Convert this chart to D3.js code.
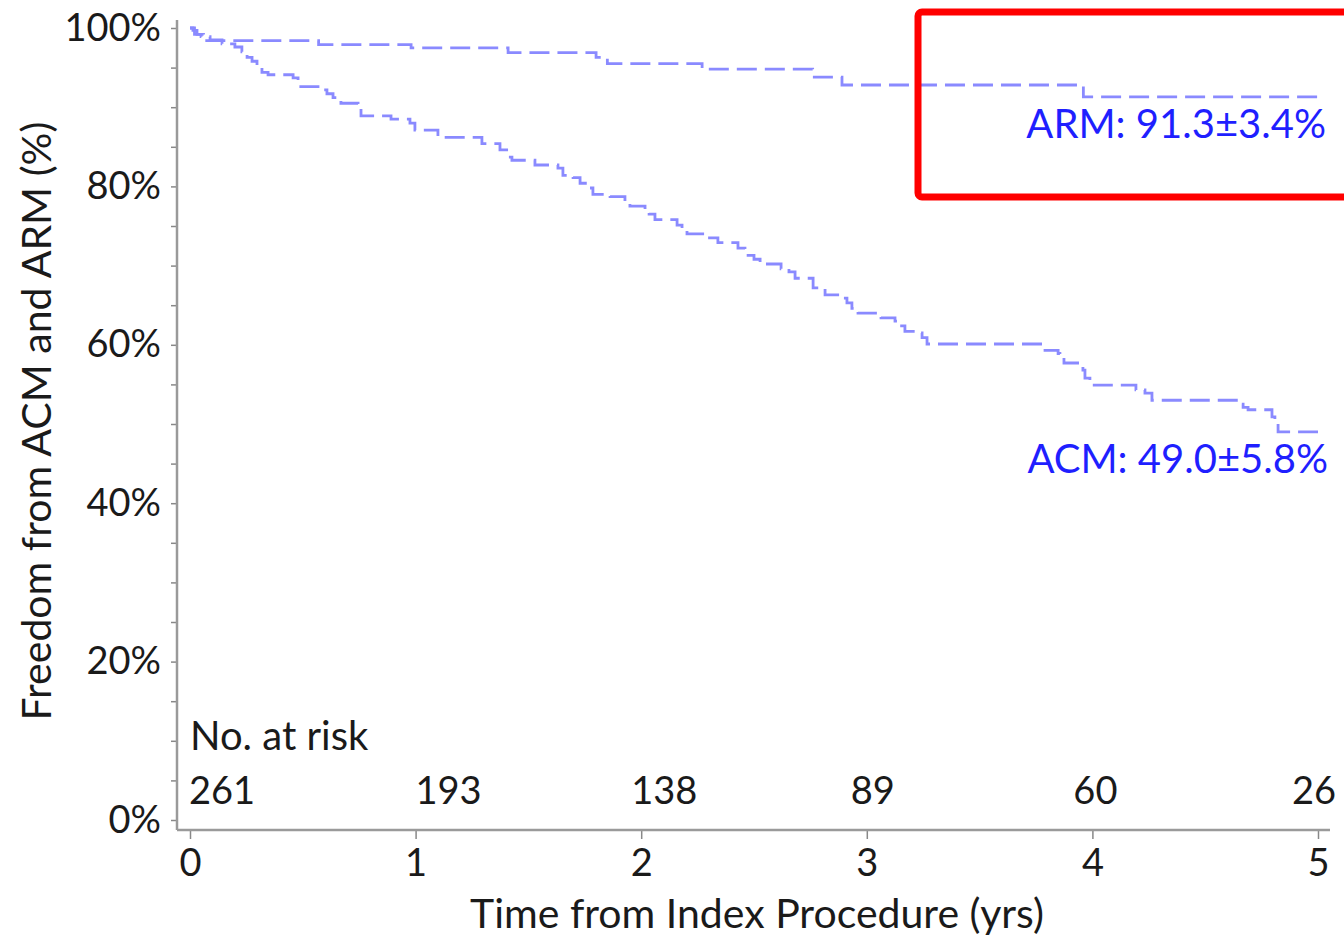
<!DOCTYPE html>
<html>
<head>
<meta charset="utf-8">
<script src="https://cdn.jsdelivr.net/npm/d3@7"></script>
<style>
  body { margin: 0; background: #fff; }
  svg { display: block; font-family: Lato, "Open Sans", sans-serif; }
</style>
</head>
<body>
<div id="chart"></div>
<script>
// Kaplan-Meier style step data (time in years, survival in %)
const armTimes = [0, 0.02, 0.06, 0.57, 0.98, 1.41, 1.80, 1.85, 2.27, 2.76, 2.89, 3.96, 5.0];
const armValues = [100, 99.2, 98.4, 97.9, 97.5, 96.9, 96.3, 95.5, 94.8, 93.8, 92.8, 91.3, 91.3];

const acmTimes = [0, 0.013, 0.031, 0.049, 0.089, 0.142, 0.199, 0.230, 0.253, 0.275, 0.297, 0.319, 0.346,
  0.457, 0.479, 0.581, 0.607, 0.634, 0.669, 0.745, 0.758, 0.891, 0.975, 0.997, 1.099, 1.294, 1.374,
  1.410, 1.427, 1.529, 1.631, 1.653, 1.698, 1.729, 1.764, 1.786, 1.862, 1.928, 1.950, 2.017, 2.035,
  2.061, 2.159, 2.181, 2.203, 2.296, 2.340, 2.429, 2.460, 2.500, 2.527, 2.620, 2.655, 2.682, 2.762,
  2.815, 2.881, 2.912, 2.934, 2.961, 3.063, 3.125, 3.147, 3.169, 3.227, 3.245, 3.267, 3.790, 3.848,
  3.856, 3.874, 3.958, 3.967, 3.989, 4.193, 4.233, 4.264, 4.654, 4.668, 4.690, 4.796, 4.809, 4.823, 5.0];
const acmValues = [100, 99.7, 99.2, 98.9, 98.5, 98.0, 97.6, 97.0, 96.3, 95.8, 95.1, 94.4, 94.1,
  93.7, 92.6, 92.2, 91.7, 91.2, 90.5, 89.8, 88.9, 88.5, 88.0, 87.1, 86.2, 85.4, 84.6,
  83.7, 83.3, 82.7, 82.3, 81.4, 81.1, 80.4, 79.8, 79.0, 78.7, 77.9, 77.5, 77.1, 76.5,
  75.8, 75.1, 74.5, 74.0, 73.5, 72.9, 72.2, 71.3, 70.8, 70.2, 69.6, 69.2, 68.4, 67.2,
  66.3, 65.9, 65.3, 64.6, 64.0, 63.4, 63.0, 62.4, 61.7, 61.5, 60.9, 60.1, 59.3, 58.9,
  58.5, 57.7, 56.8, 55.8, 54.9, 54.3, 53.9, 53.0, 52.5, 52.1, 51.8, 50.9, 50.1, 49.0, 49.0];

const seriesLabels = ["ARM: 91.3\u00b13.4%", "ACM: 49.0\u00b15.8%"];
const xTicks = [0, 1, 2, 3, 4, 5];
const yTicks = [0, 20, 40, 60, 80, 100];
const atRisk = [261, 193, 138, 89, 60, 26];

// layout
const width = 1344, height = 937;
const x0 = 190, x1 = 1318, yTop = 28, yBottom = 820;
const axisX = 177, axisY = 830;
const lineColor = "#8a8aff";
const labelColor = "#1f1fff";
const tickFont = 38;
const textFont = 40;
const titleFont = 41;
// horizontal nudge of the at-risk numbers from their tick (px)
const atRiskDx = [32, 33, 23, 6, 3, -4];

const svg = d3.select("#chart")
  .append("svg")
  .attr("width", width)
  .attr("height", height);

const xScale = d3.scaleLinear().domain([0, 5]).range([x0, x1]);
const yScale = d3.scaleLinear().domain([0, 100]).range([yBottom, yTop]);

// y axis (minor ticks every 5%)
const yAxis = svg.append("g")
  .attr("transform", `translate(${axisX},0)`)
  .call(d3.axisLeft(yScale)
    .tickValues(d3.range(0, 101, 5))
    .tickSize(6)
    .tickPadding(10)
    .tickFormat(d => yTicks.includes(d) ? d + "%" : ""));
yAxis.select(".domain").remove();
yAxis.selectAll(".tick line").attr("stroke", "#888").attr("stroke-width", 1.5);
yAxis.selectAll(".tick text")
  .attr("font-size", tickFont)
  .attr("fill", "#1a1a1a")
  .attr("font-family", "Lato, sans-serif");

// x axis
const xAxis = svg.append("g")
  .attr("transform", `translate(0,${axisY})`)
  .call(d3.axisBottom(xScale)
    .tickValues(xTicks)
    .tickSize(9)
    .tickPadding(10)
    .tickFormat(d3.format("d")));
xAxis.select(".domain").remove();
xAxis.selectAll(".tick line").attr("stroke", "#888").attr("stroke-width", 1.5);
xAxis.selectAll(".tick text")
  .attr("font-size", tickFont)
  .attr("fill", "#1a1a1a")
  .attr("font-family", "Lato, sans-serif");

// axis lines
svg.append("line")
  .attr("x1", axisX).attr("x2", axisX)
  .attr("y1", 20).attr("y2", axisY)
  .attr("stroke", "#9a9a9a").attr("stroke-width", 2.5);
svg.append("line")
  .attr("x1", axisX).attr("x2", 1330)
  .attr("y1", axisY).attr("y2", axisY)
  .attr("stroke", "#9a9a9a").attr("stroke-width", 2.5);

// step curves
const stepLine = d3.line()
  .x(d => xScale(d[0]))
  .y(d => yScale(d[1]))
  .curve(d3.curveStepAfter);

const curves = [d3.zip(armTimes, armValues), d3.zip(acmTimes, acmValues)];
svg.selectAll(".km")
  .data(curves)
  .enter()
  .append("path")
    .attr("class", "km")
    .attr("d", stepLine)
    .attr("fill", "none")
    .attr("stroke", lineColor)
    .attr("stroke-width", 2.8)
    .attr("stroke-dasharray", "20,8");

// end labels
svg.append("text")
  .attr("x", 1326).attr("y", 138)
  .attr("text-anchor", "end")
  .attr("font-size", textFont)
  .attr("fill", labelColor)
  .text(seriesLabels[0]);
svg.append("text")
  .attr("x", 1328).attr("y", 473)
  .attr("text-anchor", "end")
  .attr("font-size", textFont)
  .attr("fill", labelColor)
  .text(seriesLabels[1]);

// numbers at risk
svg.append("text")
  .attr("x", x0).attr("y", 750)
  .attr("font-size", textFont)
  .attr("fill", "#1a1a1a")
  .text("No. at risk");
svg.selectAll(".risk")
  .data(atRisk)
  .enter()
  .append("text")
    .attr("class", "risk")
    .attr("x", (d, i) => xScale(xTicks[i]) + atRiskDx[i])
    .attr("y", 804)
    .attr("text-anchor", "middle")
    .attr("font-size", tickFont)
    .attr("fill", "#1a1a1a")
    .text(d => d);

// axis titles
svg.append("text")
  .attr("x", 757).attr("y", 928)
  .attr("text-anchor", "middle")
  .attr("font-size", titleFont)
  .attr("fill", "#1a1a1a")
  .text("Time from Index Procedure (yrs)");
svg.append("text")
  .attr("transform", "translate(51,421) rotate(-90)")
  .attr("text-anchor", "middle")
  .attr("font-size", titleFont)
  .attr("fill", "#1a1a1a")
  .text("Freedom from ACM and ARM (%)");

// highlight box
svg.append("rect")
  .attr("x", 918).attr("y", 12)
  .attr("width", 460).attr("height", 185)
  .attr("rx", 4)
  .attr("fill", "none")
  .attr("stroke", "#ff0000")
  .attr("stroke-width", 7);
</script>
</body>
</html>
